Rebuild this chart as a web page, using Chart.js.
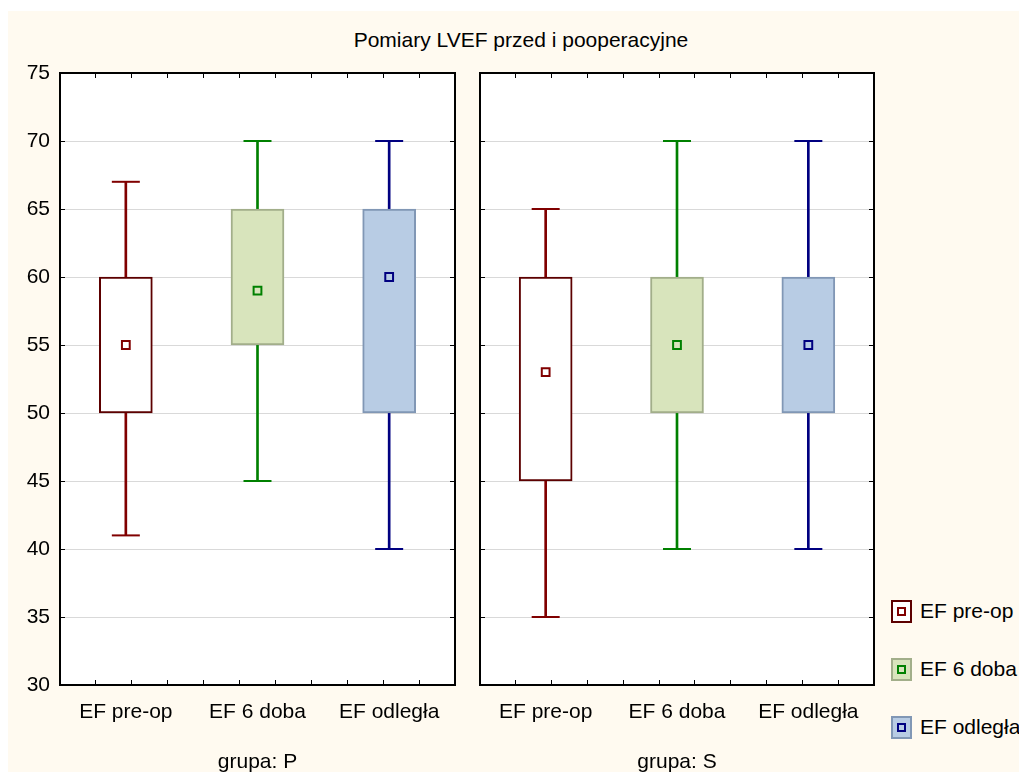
<!DOCTYPE html>
<html>
<head>
<meta charset="utf-8">
<title>Pomiary LVEF</title>
<script src="https://cdn.jsdelivr.net/npm/chart.js@4/dist/chart.umd.min.js"></script>
<style>
  body { margin: 0; background: #fff; overflow: hidden; font-family: "Liberation Sans", Arial, sans-serif; }
  #bg { position: absolute; left: 8px; top: 11px; width: 1011px; height: 761px; background: #FFFAF0; }
  #title { position: absolute; left: 271px; top: 27px; width: 500px; text-align: center; font-size: 21px; line-height: 25px; color: #000; }
  .panel { position: absolute; top: 50px; }
  #legend { position: absolute; left: 891px; top: 0; }
  .item { position: absolute; left: 0; height: 25px; display: flex; align-items: center; white-space: nowrap; font-size: 21px; color: #000; }
  .swatch { width: 17px; height: 19px; border: 2px solid; display: flex; align-items: center; justify-content: center; margin-right: 8px; }
  .dot { width: 5px; height: 5px; border: 2px solid; }
</style>
</head>
<body>
<div id="bg"></div>
<div id="title">Pomiary LVEF przed i pooperacyjne</div>
<div class="panel" style="left:0px"><canvas id="chartP" width="460" height="725"></canvas></div>
<div class="panel" style="left:466px"><canvas id="chartS" width="414" height="725"></canvas></div>
<div id="legend"></div>
<script>
// categories and box values
const categories = ['EF pre-op', 'EF 6 doba', 'EF odległa'];

// grupa: P
const pMin = [41, 45, 40];
const pQ1 = [50, 55, 50];
const pMid = [55, 59, 60];
const pQ3 = [60, 65, 65];
const pMax = [67, 70, 70];

// grupa: S
const sMin = [35, 40, 40];
const sQ1 = [45, 50, 50];
const sMid = [53, 55, 55];
const sQ3 = [60, 60, 60];
const sMax = [65, 70, 70];

const yMin = 30, yMax = 75, yStep = 5;

// styles
const lineColors = ['#800000', '#008000', '#000080'];
const boxFills = ['#FFFFFF', '#D8E4BC', '#B8CCE4'];
const boxBorders = ['#5C0000', '#A2AE8A', '#8197B5'];

Chart.defaults.font.family = '"Liberation Sans", Arial, sans-serif';
Chart.defaults.font.size = 21;
Chart.defaults.color = '#000';

// white plot area on the cream page
const plotBg = {
  id: 'plotBg',
  beforeDraw(chart) {
    const a = chart.chartArea;
    const ctx = chart.ctx;
    ctx.save();
    ctx.fillStyle = '#FFFFFF';
    ctx.fillRect(a.left, a.top, a.right - a.left, a.bottom - a.top);
    ctx.restore();
  }
};

// keep label overflow from pushing the plot frame around
function noPad(s) {
  s.paddingTop = 0;
  s.paddingBottom = 0;
  s.paddingLeft = 0;
  s.paddingRight = 0;
}

function makePanel(id, min, q1, mid, q3, max, groupTitle, showY, yWidth, padRight) {
  const ctx = document.getElementById(id).getContext('2d');
  return new Chart(ctx, {
    type: 'bar',
    data: {
      labels: categories,
      datasets: [
        {
          type: 'line',
          label: 'mediana',
          data: mid,
          showLine: false,
          pointStyle: 'rect',
          pointRadius: 5.5,
          pointHoverRadius: 5.5,
          pointBorderWidth: 2,
          pointBorderColor: lineColors,
          pointBackgroundColor: 'rgba(0,0,0,0)',
          order: 0
        },
        {
          type: 'line',
          label: 'max',
          data: max,
          showLine: false,
          pointStyle: 'line',
          pointRadius: 14,
          pointHoverRadius: 14,
          pointBorderWidth: 2,
          pointBorderColor: lineColors,
          order: 1
        },
        {
          type: 'line',
          label: 'min',
          data: min,
          showLine: false,
          pointStyle: 'line',
          pointRadius: 14,
          pointHoverRadius: 14,
          pointBorderWidth: 2,
          pointBorderColor: lineColors,
          order: 1
        },
        {
          label: 'box',
          data: categories.map((c, i) => [q1[i], q3[i]]),
          backgroundColor: boxFills,
          borderColor: boxBorders,
          borderWidth: 2,
          borderSkipped: false,
          barThickness: 53,
          grouped: false,
          order: 2
        },
        {
          label: 'wąsy',
          data: categories.map((c, i) => [min[i], max[i]]),
          backgroundColor: lineColors,
          borderWidth: 0,
          barThickness: 2,
          grouped: false,
          order: 3
        }
      ]
    },
    options: {
      responsive: false,
      animation: false,
      layout: { autoPadding: false, padding: { top: 23, right: padRight, bottom: 0, left: 0 } },
      plugins: {
        legend: { display: false },
        tooltip: { enabled: false }
      },
      scales: {
        x: {
          type: 'category',
          position: 'bottom',
          offset: true,
          weight: 1,
          grid: { display: false },
          border: { display: true, color: '#000', width: 2 },
          ticks: { padding: 7, maxRotation: 0 },
          title: { display: true, text: groupTitle, padding: { top: 0, bottom: 0 } },
          afterFit(s) { noPad(s); s.height = 90; }
        },
        xb: {
          type: 'linear',
          position: 'bottom',
          weight: 0,
          min: 0,
          max: 10,
          ticks: { stepSize: 1, display: false },
          grid: { drawOnChartArea: false, tickLength: -5, tickColor: '#000', color: '#000' },
          border: { display: false },
          afterFit(s) { noPad(s); s.height = 0; }
        },
        xt: {
          type: 'linear',
          position: 'top',
          min: 0,
          max: 10,
          ticks: { stepSize: 1, display: false },
          grid: { drawOnChartArea: false, tickLength: -5, tickColor: '#000', color: '#000' },
          border: { display: true, color: '#000', width: 2 },
          afterFit(s) { noPad(s); s.height = 0; }
        },
        y: {
          type: 'linear',
          position: 'left',
          min: yMin,
          max: yMax,
          ticks: { stepSize: yStep, display: showY, padding: 15 },
          grid: { color: '#D9D9D9', lineWidth: 1, tickLength: -5, tickColor: '#000' },
          border: { display: true, color: '#000', width: 2 },
          afterFit(s) { noPad(s); s.width = yWidth; }
        },
        yr: {
          type: 'linear',
          position: 'right',
          min: yMin,
          max: yMax,
          ticks: { stepSize: yStep, display: false },
          grid: { drawOnChartArea: false, tickLength: -5, tickColor: '#000', color: '#000' },
          border: { display: true, color: '#000', width: 2 },
          afterFit(s) { noPad(s); s.width = 0; }
        }
      }
    },
    plugins: [plotBg]
  });
}

makePanel('chartP', pMin, pQ1, pMid, pQ3, pMax, 'grupa: P', true, 60, 5);
makePanel('chartS', sMin, sQ1, sMid, sQ3, sMax, 'grupa: S', false, 14, 6);

// legend for the three series
const legendCenters = [611, 669, 727];
const legend = document.getElementById('legend');
categories.forEach((name, i) => {
  const item = document.createElement('div');
  item.className = 'item';
  item.style.top = (legendCenters[i] - 12.5) + 'px';
  const sw = document.createElement('div');
  sw.className = 'swatch';
  sw.style.background = boxFills[i];
  sw.style.borderColor = boxBorders[i];
  const dot = document.createElement('div');
  dot.className = 'dot';
  dot.style.borderColor = lineColors[i];
  sw.appendChild(dot);
  item.appendChild(sw);
  item.appendChild(document.createTextNode(name));
  legend.appendChild(item);
});
</script>
</body>
</html>
